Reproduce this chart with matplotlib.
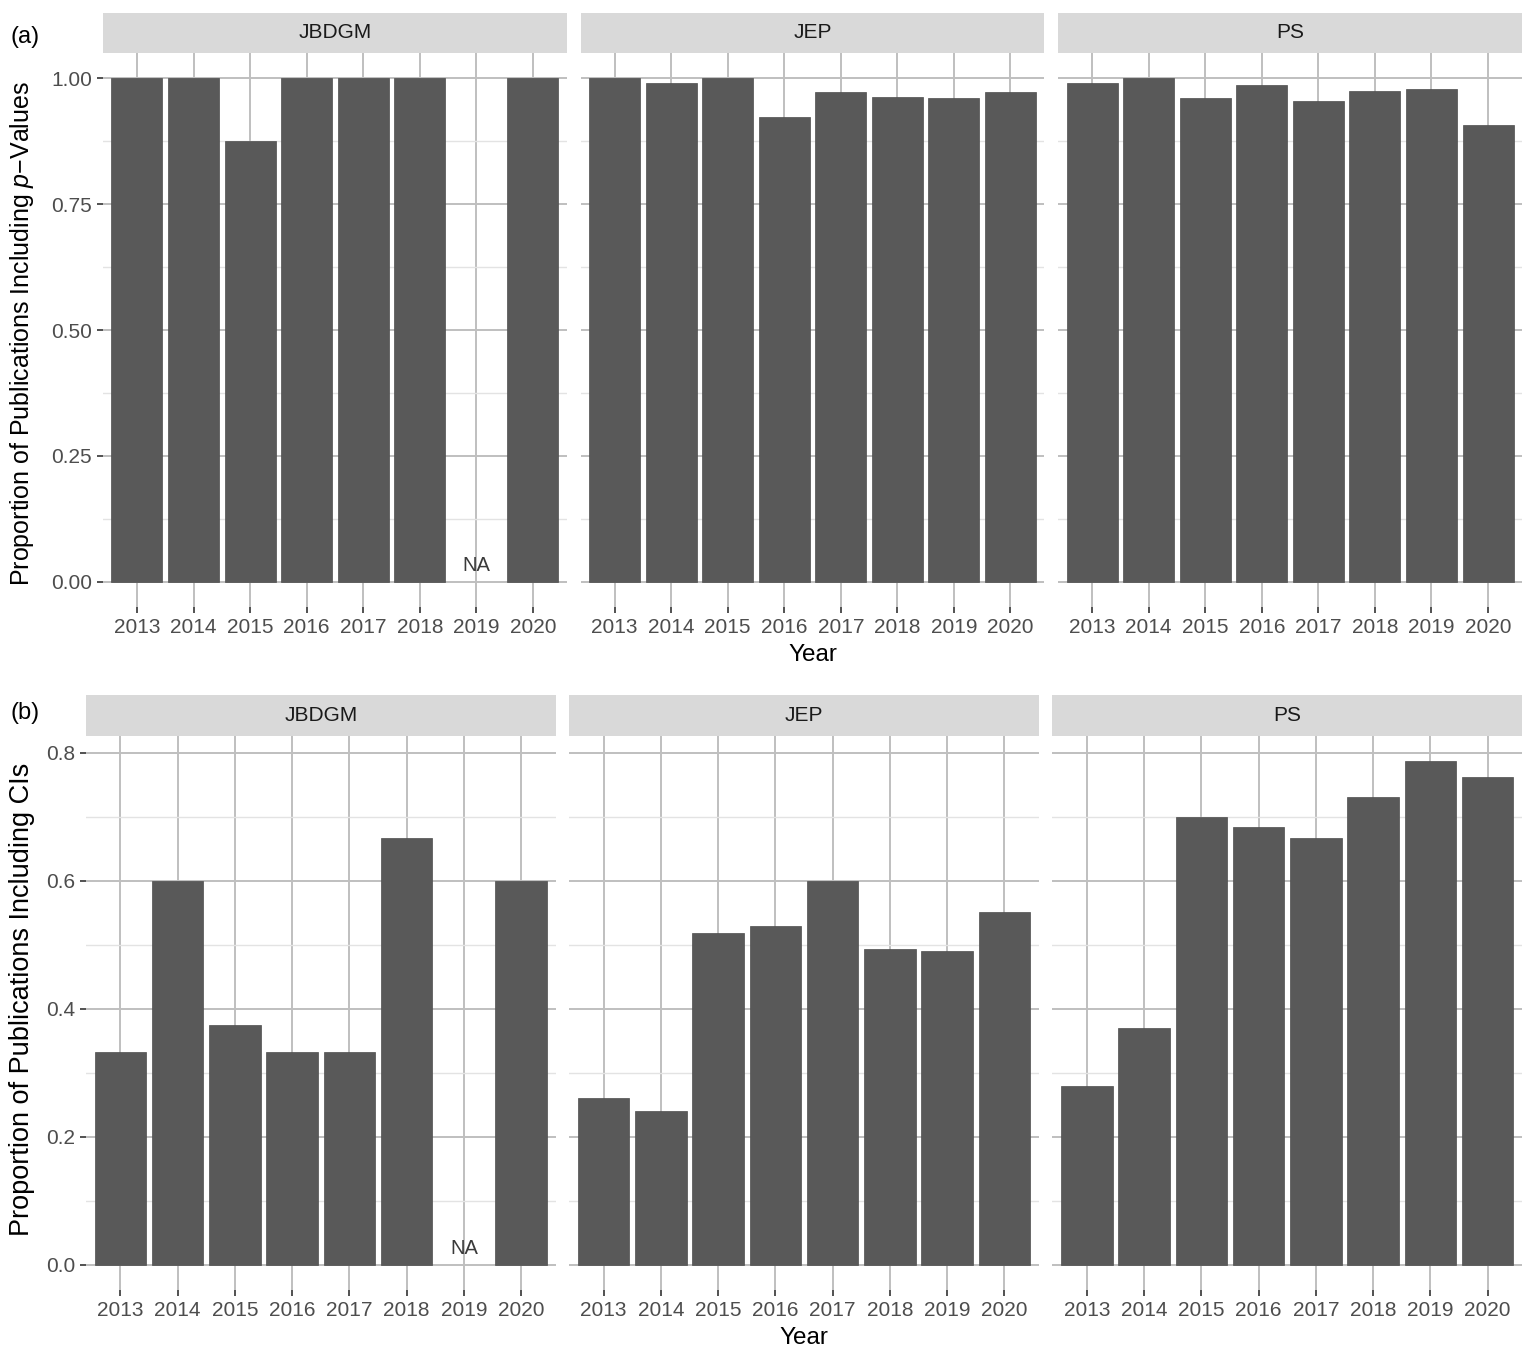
import matplotlib.pyplot as plt
import numpy as np

plt.rcParams['font.family'] = ['Liberation Sans', 'DejaVu Sans']
plt.rcParams['mathtext.fontset'] = 'custom'
plt.rcParams['mathtext.rm'] = 'Liberation Sans'
plt.rcParams['mathtext.it'] = 'Liberation Sans:italic'

years = ['2013', '2014', '2015', '2016', '2017', '2018', '2019', '2020']
journals = ['JBDGM', 'JEP', 'PS']

# (a) proportion including p-values
pval_jbdgm = [1.0, 1.0, 0.875, 1.0, 1.0, 1.0, np.nan, 1.0]
pval_jep = [1.0, 0.990, 1.0, 0.922, 0.973, 0.963, 0.961, 0.972]
pval_ps = [0.990, 1.0, 0.960, 0.987, 0.954, 0.975, 0.979, 0.907]

# (b) proportion including CIs
ci_jbdgm = [0.333, 0.600, 0.375, 0.333, 0.333, 0.667, np.nan, 0.600]
ci_jep = [0.260, 0.240, 0.519, 0.529, 0.600, 0.494, 0.491, 0.552]
ci_ps = [0.280, 0.370, 0.700, 0.684, 0.667, 0.731, 0.787, 0.763]

W, H = 1535, 1365
fig = plt.figure(figsize=(W / 100, H / 100), dpi=100)


def px_rect(x0, y0, x1, y1):
    return [x0 / W, 1 - y1 / H, (x1 - x0) / W, (y1 - y0) / H]


def draw_row(data, left, right, strip_top, strip_bot, panel_bot, yticks, fmt,
             ylabel, ylab_size, ylab_y, tag, tag_y):
    gap = 13.7
    w = (right - left - 2 * gap) / 3
    allv = np.array(data, dtype=float)
    vmax = np.nanmax(allv)
    ymin, ymax = -0.05 * vmax, 1.05 * vmax
    x = np.arange(1, len(years) + 1)
    for i, (name, vals) in enumerate(zip(journals, data)):
        x0 = left + i * (w + gap)
        x1 = x0 + w
        ax = fig.add_axes(px_rect(x0, strip_bot, x1, panel_bot))
        vals = np.array(vals, dtype=float)
        ok = ~np.isnan(vals)
        ax.bar(x[ok], vals[ok], width=0.9, color='#595959', edgecolor='#4d4d4d', linewidth=0.5, zorder=3)
        for xi in x[~ok]:
            ax.annotate('NA', (xi, 0), xytext=(0, 5), textcoords='offset points',
                        ha='center', va='bottom', fontsize=14.5, color='#3a3a3a', zorder=4)
        ax.set_xlim(0.4, len(years) + 0.6)
        ax.set_ylim(ymin, ymax)
        ax.set_xticks(x)
        ax.set_xticklabels(years)
        ax.set_yticks(yticks)
        minor = [(a + b) / 2 for a, b in zip(yticks[:-1], yticks[1:])]
        ax.set_yticks(minor, minor=True)
        ax.grid(True, which='major', color='#bfbfbf', linewidth=1.4, zorder=0)
        ax.grid(True, which='minor', axis='y', color='#e3e3e3', linewidth=1.0, zorder=0)
        for s in ax.spines.values():
            s.set_visible(False)
        ax.tick_params(axis='both', which='major', length=4, width=1.2, color='#333333',
                       labelsize=15, labelcolor='#4d4d4d', pad=4)
        ax.tick_params(axis='y', which='minor', length=0)
        if i == 0:
            ax.set_yticklabels([fmt.format(t) for t in yticks])
        else:
            ax.tick_params(axis='y', which='major', length=0, labelleft=False)
        ax.set_axisbelow(True)
        # facet strip
        sax = fig.add_axes(px_rect(x0, strip_top, x1, strip_bot))
        sax.set_facecolor('#d9d9d9')
        sax.set_xticks([])
        sax.set_yticks([])
        for s in sax.spines.values():
            s.set_visible(False)
        sax.text(0.5, 0.5, name, ha='center', va='center', fontsize=15, color='#1a1a1a',
                 transform=sax.transAxes)
    fig.text(22 / W, 1 - ylab_y / H, ylabel, rotation=90, ha='center', va='center',
             fontsize=ylab_size, color='black')
    fig.text((left + right) / 2 / W, 1 - (panel_bot + 48) / H, 'Year', ha='center', va='center',
             fontsize=17.5, color='black')
    fig.text(25 / W, 1 - tag_y / H, tag, ha='center', va='center', fontsize=17)


draw_row([pval_jbdgm, pval_jep, pval_ps], 103, 1522, 13, 53, 607,
         [0.0, 0.25, 0.5, 0.75, 1.0], '{:.2f}',
         r'Proportion of Publications Including $\mathit{p}$' + '\u2212Values', 18, 334, '(a)', 37)
draw_row([ci_jbdgm, ci_jep, ci_ps], 86, 1522, 695, 736, 1290,
         [0.0, 0.2, 0.4, 0.6, 0.8], '{:.1f}',
         'Proportion of Publications Including CIs', 19.5, 999, '(b)', 713)

fig.savefig('out.png', dpi=100, facecolor='white')
